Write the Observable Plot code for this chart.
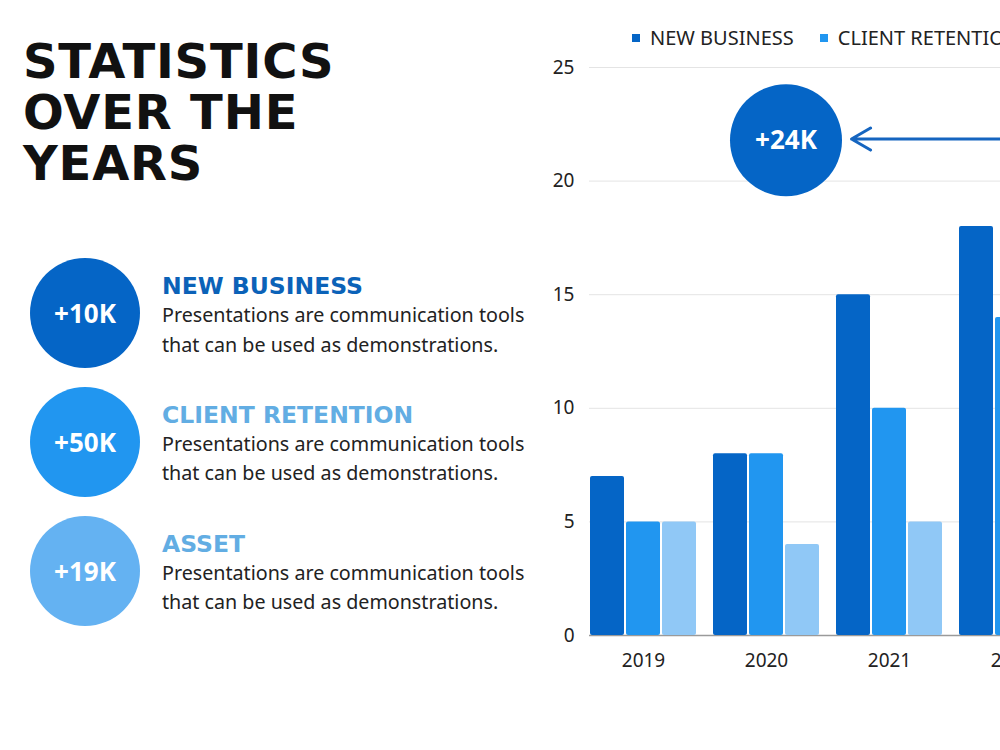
<!DOCTYPE html>
<html>
<head>
<meta charset="utf-8">
<script src="https://cdn.jsdelivr.net/npm/d3@7"></script>
<script src="https://cdn.jsdelivr.net/npm/@observablehq/plot@0.6"></script>
<style>
  html, body { margin: 0; padding: 0; background: #fff; }
  body { position: relative; width: 1000px; height: 750px; overflow: hidden; font-family: "Noto Sans", sans-serif; color: #1a1a1a; }
  #title { position: absolute; left: 23px; top: 36px; margin: 0; font-family: "DejaVu Sans", sans-serif; font-size: 48px; line-height: 51px; font-weight: 700; letter-spacing: 0.8px; color: #111; }
  .stat { position: absolute; left: 30px; height: 110px; }
  .badge { position: absolute; left: 0; top: 0; width: 110px; height: 110px; border-radius: 50%; color: #fff; font-weight: 700; font-size: 26px; display: flex; align-items: center; justify-content: center; }
  .stat h2 { position: absolute; left: 132px; top: 13px; margin: 0; font-family: "DejaVu Sans", sans-serif; font-size: 23.5px; line-height: 30px; font-weight: 700; white-space: nowrap; }
  .stat p { position: absolute; left: 132px; top: 42px; margin: 0; font-size: 19.7px; line-height: 29.5px; color: #222; white-space: nowrap; }
  #legend { position: absolute; left: 632px; top: 24px; display: flex; gap: 26px; white-space: nowrap; font-size: 20px; color: #222; }
  #legend span.key { display: inline-flex; align-items: center; }
  #legend i { display: inline-block; width: 8px; height: 8px; margin-right: 10px; }
  #chart { position: absolute; left: 540px; top: 50px; width: 528px; }
  #chart svg { max-width: none !important; }
</style>
</head>
<body>
<h1 id="title">STATISTICS<br>OVER THE<br>YEARS</h1>
<div id="stats"></div>
<div id="legend"></div>
<div id="chart"></div>
<script>
// Yearly figures per series
const years = ["2019", "2020", "2021", "2022"];
const seriesNames = ["NEW BUSINESS", "CLIENT RETENTION", "ASSET"];
const newBusiness = [7, 8, 15, 18];
const clientRetention = [5, 8, 10, 14];
const asset = [5, 4, 5, 6];
const yTicks = [0, 5, 10, 15, 20, 25];

// Summary badges
const statValues = ["+10K", "+50K", "+19K"];
const statText = "Presentations are communication tools\nthat can be used as demonstrations.";
const highlightValue = "+24K";

// Styling
const seriesColors = ["#0565c6", "#2196f0", "#90c8f6"];
const badgeColors = ["#0565c6", "#2196f0", "#64b2f2"];
const headingColors = ["#0b62b8", "#62ade3", "#62ade3"];

// Left column: badges with headings and descriptions
const stats = d3.select("#stats");
seriesNames.forEach((name, i) => {
  const row = stats.append("div").attr("class", "stat").style("top", (258 + 128.8 * i) + "px");
  row.append("div").attr("class", "badge").style("background", badgeColors[i]).text(statValues[i]);
  row.append("h2").style("color", headingColors[i]).text(name);
  row.append("p").html(statText.replace("\n", "<br>"));
});

// Legend
const legend = d3.select("#legend");
seriesNames.forEach((name, i) => {
  const k = legend.append("span").attr("class", "key");
  k.append("i").style("background", seriesColors[i]);
  k.append("span").text(name);
});

// Tidy table for the grouped bars
const seriesValues = [newBusiness, clientRetention, asset];
const data = years.flatMap((year, j) =>
  seriesNames.map((series, i) => ({year, series, value: seriesValues[i][j]}))
);
const highlight = [{value: highlightValue}];

const chart = Plot.plot({
  width: 528,
  height: 630,
  marginLeft: 48,
  marginRight: 0,
  marginTop: 17,
  marginBottom: 45,
  style: {fontFamily: "Noto Sans, sans-serif", fontSize: "19px", color: "#222", background: "transparent", overflow: "visible"},
  fx: {domain: years, paddingInner: 0.119, paddingOuter: 0, axis: "bottom", label: null, tickSize: 0, tickPadding: 18},
  x: {domain: seriesNames, paddingInner: 0.054, paddingOuter: 0, axis: null},
  y: {domain: [0, 25], ticks: yTicks, tickSize: 0, tickPadding: 15, label: null},
  color: {domain: seriesNames, range: seriesColors},
  marks: [
    Plot.ruleY(yTicks.slice(1), {stroke: "#e4e4e4", strokeWidth: 1, insetRight: -15}),
    Plot.ruleY([0], {stroke: "#9a9a9a", strokeWidth: 1.5, insetRight: -15}),
    Plot.barY(data, {fx: "year", x: "series", y: "value", fill: "series", rx: 2}),
    Plot.dot(highlight, {fx: () => "2020", x: () => "CLIENT RETENTION", y: () => 21.8, dx: 19.5, r: 56, fill: "#0565c6", stroke: null}),
    Plot.text(highlight, {fx: () => "2020", x: () => "CLIENT RETENTION", y: () => 21.8, dx: 19.5, text: "value", fill: "#fff", fontSize: 26, fontWeight: 700}),
    Plot.arrow(highlight, {fx: () => "2021", x1: () => "ASSET", x2: () => "NEW BUSINESS", y1: () => 21.85, y2: () => 21.85, insetStart: -160, insetEnd: -2, stroke: "#1565c0", strokeWidth: 3, headLength: 11, bend: 0})
  ]
});
document.getElementById("chart").append(chart);
</script>
</body>
</html>
